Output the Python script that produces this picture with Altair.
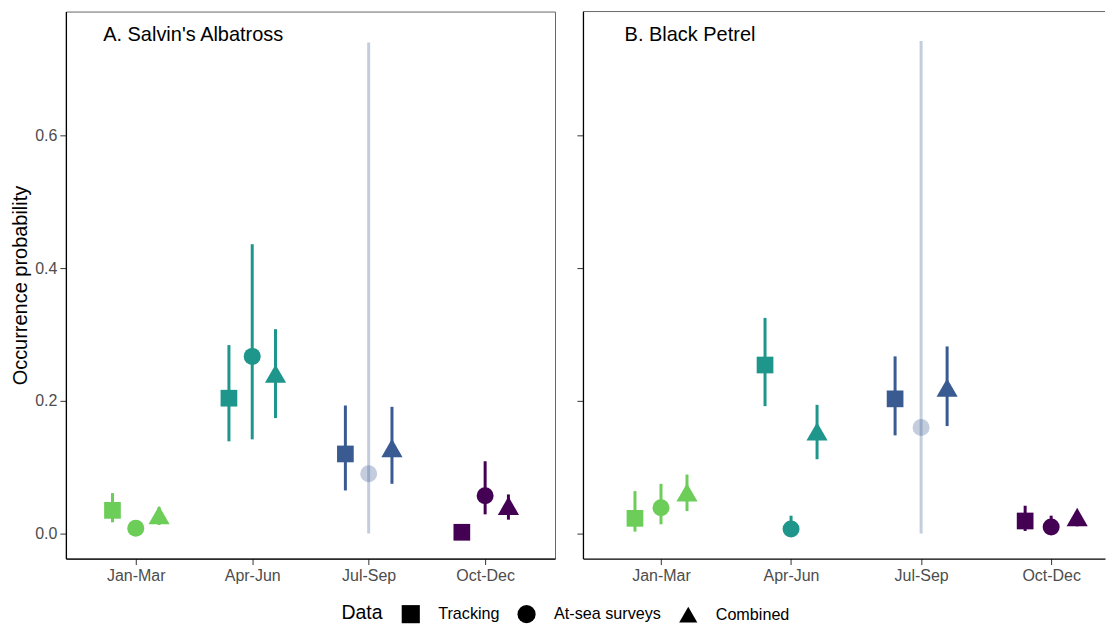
import json
import altair as alt
import pandas as pd

seasons = ["Jan-Mar", "Apr-Jun", "Jul-Sep", "Oct-Dec"]
data_types = ["Tracking", "At-sea surveys", "Combined"]
season_colors = ["#6ccd59", "#1f968b", "#3a5a92", "#440154"]
panel_titles = ["A. Salvin's Albatross", "B. Black Petrel"]

# A. Salvin's Albatross
alb_track = [0.035, 0.204, 0.120, 0.002]
alb_track_lo = [0.017, 0.139, 0.065, 0.000]
alb_track_hi = [0.061, 0.284, 0.193, 0.004]
alb_sea = [0.008, 0.267, 0.090, 0.057]
alb_sea_lo = [0.003, 0.142, 0.000, 0.029]
alb_sea_hi = [0.013, 0.436, 0.740, 0.109]
alb_comb = [0.028, 0.241, 0.129, 0.042]
alb_comb_lo = [0.013, 0.174, 0.075, 0.021]
alb_comb_hi = [0.040, 0.308, 0.191, 0.059]

# B. Black Petrel
pet_track = [0.023, 0.254, 0.203, 0.019]
pet_track_lo = [0.003, 0.192, 0.148, 0.004]
pet_track_hi = [0.064, 0.325, 0.267, 0.042]
pet_sea = [0.039, 0.007, 0.160, 0.010]
pet_sea_lo = [0.014, 0.002, 0.000, 0.003]
pet_sea_hi = [0.075, 0.027, 0.742, 0.027]
pet_comb = [0.062, 0.154, 0.220, 0.025]
pet_comb_lo = [0.034, 0.112, 0.162, 0.011]
pet_comb_hi = [0.089, 0.194, 0.282, 0.030]

# At-sea survey estimate flagged as unreliable (drawn faded)
sea_faded = [False, False, True, False]

dodge = {"Tracking": -0.2, "At-sea surveys": 0.0, "Combined": 0.2}

series = {
    "alb": {
        "Tracking": (alb_track, alb_track_lo, alb_track_hi),
        "At-sea surveys": (alb_sea, alb_sea_lo, alb_sea_hi),
        "Combined": (alb_comb, alb_comb_lo, alb_comb_hi),
    },
    "pet": {
        "Tracking": (pet_track, pet_track_lo, pet_track_hi),
        "At-sea surveys": (pet_sea, pet_sea_lo, pet_sea_hi),
        "Combined": (pet_comb, pet_comb_lo, pet_comb_hi),
    },
}

rows = []
for sp, d in series.items():
    for t in data_types:
        est, lo, hi = d[t]
        for i, s in enumerate(seasons):
            rows.append({
                "species": sp, "type": t, "season": s,
                "xpos": i + 1 + dodge[t],
                "est": est[i], "lo": lo[i], "hi": hi[i],
                "faded": bool(sea_faded[i]) if t == "At-sea surveys" else False,
            })
df = pd.DataFrame(rows)

FONT = "Liberation Sans"
Y_DOMAIN = [-0.0376, 0.7865]
H = 548
label_expr = "%s[round(datum.value)]" % json.dumps([""] + seasons)

shape_scale = alt.Scale(domain=data_types, range=["square", "circle", "triangle-up"])
size_expr = "datum.type == 'Combined' ? 450 : (datum.type == 'Tracking' ? 280 : 290)"
color_scale = alt.Scale(domain=seasons, range=season_colors)


def panel(sp, title, xmax, width, left):
    d = df[df.species == sp]
    xs = alt.Scale(domain=[0.4, xmax], nice=False, zero=False)
    ys = alt.Scale(domain=Y_DOMAIN, nice=False, zero=False)
    xaxis = alt.Axis(values=[1, 2, 3, 4], labelExpr=label_expr, title=None, grid=False,
                     domainColor="black", domainWidth=1.3, tickColor="#333333",
                     tickSize=6, labelColor="#4d4d4d", labelFontSize=16, labelFont=FONT,
                     labelPadding=3, labelFlush=False)
    if left:
        yaxis = alt.Axis(values=[0, 0.2, 0.4, 0.6], format=".1f", title="Occurrence probability",
                         grid=False, domainColor="black", domainWidth=1.3, tickColor="#333333",
                         tickSize=6, labelColor="#4d4d4d", labelFontSize=16, labelFont=FONT,
                         labelPadding=3, titleFont=FONT, titleFontSize=20,
                         titleFontWeight="normal", titleColor="black", titlePadding=4)
    else:
        yaxis = alt.Axis(values=[0, 0.2, 0.4, 0.6], labels=False, title=None, grid=False,
                         domainColor="black", domainWidth=1.3, tickColor="#333333", tickSize=6)
    x = alt.X("xpos:Q", scale=xs, axis=xaxis)
    opacity = alt.condition("datum.faded", alt.value(0.3), alt.value(1.0))
    color = alt.Color("season:N", scale=color_scale, legend=None)

    bars = alt.Chart(d).mark_rule(strokeWidth=3).encode(
        x=x, y=alt.Y("lo:Q", scale=ys, axis=yaxis), y2="hi:Q",
        color=color, opacity=opacity,
    )
    pts = alt.Chart(d).transform_calculate(msize=size_expr).mark_point(filled=True).encode(
        x=x, y=alt.Y("est:Q", scale=ys, axis=yaxis),
        shape=alt.Shape("type:N", scale=shape_scale, title="Data",
                        legend=alt.Legend(orient="none", legendX=276, legendY=594,
                                          direction="horizontal", titleOrient="left")),
        size=alt.Size("msize:Q", scale=None),
        color=color, opacity=opacity,
    )
    tdf = pd.DataFrame({"label": [title], "x": [0.72], "y": [0.742]})
    txt = alt.Chart(tdf).mark_text(align="left", baseline="alphabetic", font=FONT,
                                   fontSize=20, color="black").encode(
        x=alt.X("x:Q", scale=xs), y=alt.Y("y:Q", scale=ys), text="label:N")
    layers = [bars, pts, txt]
    if left:
        view = alt.ViewBackground(stroke="#666666", strokeWidth=1)
    else:
        view = alt.ViewBackground(stroke="transparent")
        top = alt.Chart(tdf).mark_rule(color="#666666", strokeWidth=1).encode(
            x=alt.value(0), x2=alt.value(width), y=alt.value(0))
        layers.append(top)
    return alt.layer(*layers).properties(width=width, height=H, view=view)


left = panel("alb", panel_titles[0], 4.6, 490, True)
right = panel("pet", panel_titles[1], 4.414, 523, False)

chart = alt.hconcat(left, right, spacing=20).resolve_scale(
    x="independent", y="independent", shape="shared", color="shared"
).properties(
    padding={"left": 2, "top": 2, "right": 0, "bottom": 0}
).configure_legend(
    symbolFillColor="black", symbolStrokeColor="black", symbolSize=330,
    labelFont=FONT, labelFontSize=16.2, labelColor="black", labelOffset=18,
    titleFont=FONT, titleFontSize=19.5, titleFontWeight="normal", titleColor="black",
    titlePadding=18, columnPadding=17, symbolStrokeWidth=0,
).configure_view(stroke="transparent")

chart.save("out.html", embed_options={"renderer": "svg", "actions": False})
